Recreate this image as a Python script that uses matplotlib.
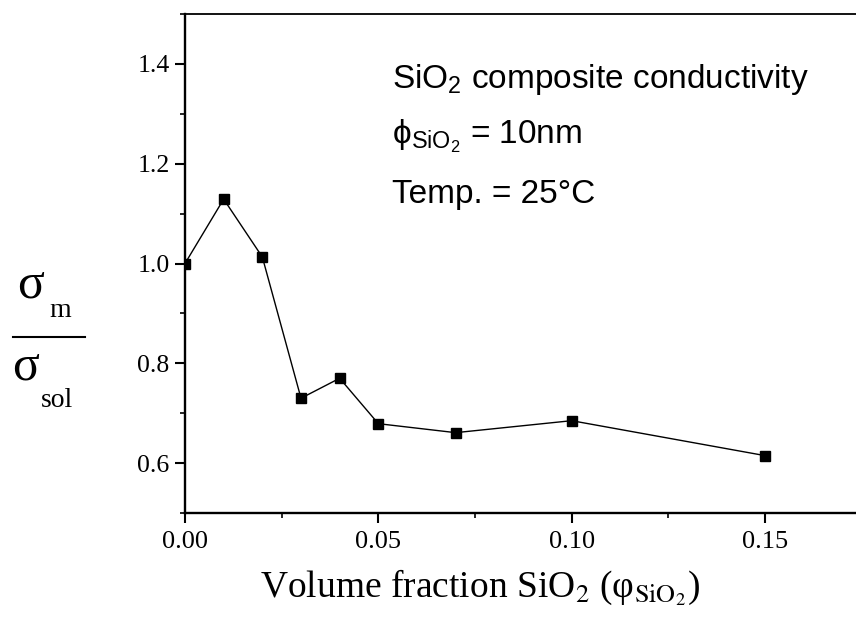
import numpy as np
import matplotlib
matplotlib.use('Agg')
import matplotlib.pyplot as plt
from matplotlib.lines import Line2D

# 数据：体积分数与相对电导率
vol_frac = [0.0, 0.01, 0.02, 0.03, 0.04, 0.05, 0.07, 0.10, 0.15]
sigma_ratio = [1.0, 1.129, 1.013, 0.730, 0.770, 0.679, 0.661, 0.685, 0.615]
x_ticks = [0.0, 0.05, 0.10, 0.15]
x_tick_labels = ['0.00', '0.05', '0.10', '0.15']
y_ticks = [0.6, 0.8, 1.0, 1.2, 1.4]
y_tick_labels = ['0.6', '0.8', '1.0', '1.2', '1.4']
notes = [r'SiO$_2$ composite conductivity',
         r'ϕ$_{\mathrm{SiO}_2}$ = 10nm',
         'Temp. = 25°C']

plt.rcParams['mathtext.fontset'] = 'custom'
plt.rcParams['mathtext.rm'] = 'Liberation Sans'
plt.rcParams['mathtext.it'] = 'Liberation Sans:italic'

W, H = 856, 620
fig = plt.figure(figsize=(W / 100, H / 100), dpi=100)
ax = fig.add_axes([185 / W, 107 / H, 696 / W, 499 / H])

ax.plot(vol_frac, sigma_ratio, color='black', lw=1.0, marker='s', ms=7.5, mfc='black', mec='black')

ax.set_xlim(0, 0.18)
ax.set_ylim(0.5, 1.5)
ax.set_xticks(x_ticks)
ax.set_xticklabels(x_tick_labels, family='Liberation Serif', fontsize=19)
ax.set_yticks(y_ticks)
ax.set_yticklabels(y_tick_labels, family='Liberation Serif', fontsize=18.5)
ax.set_xticks([0.025, 0.075, 0.125, 0.175], minor=True)
ax.set_yticks([0.5, 0.7, 0.9, 1.1, 1.3, 1.5], minor=True)
ax.tick_params(which='major', direction='out', length=7, width=1.5)
ax.tick_params(which='minor', direction='out', length=3.5, width=1.2)
ax.tick_params(axis='x', pad=6)
ax.tick_params(axis='y', pad=4)

for s in ['left', 'bottom']:
    ax.spines[s].set_linewidth(1.7)
ax.spines['top'].set_linewidth(1.3)
ax.spines['right'].set_linewidth(1.3)

# 注释文字
ys = [88, 144, 203]
for txt, yy in zip(notes, ys):
    fig.text(392 / W, 1 - yy / H, txt, family=['Liberation Sans', 'DejaVu Sans'], fontsize=24,
             ha='left', va='baseline')

# 横轴标签 (Times 风格)
fig.text(480 / W, 1 - 597 / H,
         r'Volume fraction SiO$_2$ (φ$_{\mathrm{SiO}_2}$)',
         family='Liberation Serif', fontsize=27, ha='center', va='baseline',
         math_fontfamily='stix')

# 纵轴标签：σm / σsol 手动拼
serif = 'Liberation Serif'
fig.text(17 / W, 1 - 297 / H, 'σ', family=serif, fontsize=36, va='baseline')
fig.text(49 / W, 1 - 317 / H, 'm', family=serif, fontsize=20, va='baseline')
fig.add_artist(Line2D([13 / W, 85 / W], [1 - 337 / H, 1 - 337 / H], color='black', lw=1.5,
                      transform=fig.transFigure))
fig.text(12 / W, 1 - 380 / H, 'σ', family=serif, fontsize=36, va='baseline')
fig.text(41 / W, 1 - 407 / H, 'sol', family=serif, fontsize=20, va='baseline')

fig.savefig('out.png', dpi=100)
